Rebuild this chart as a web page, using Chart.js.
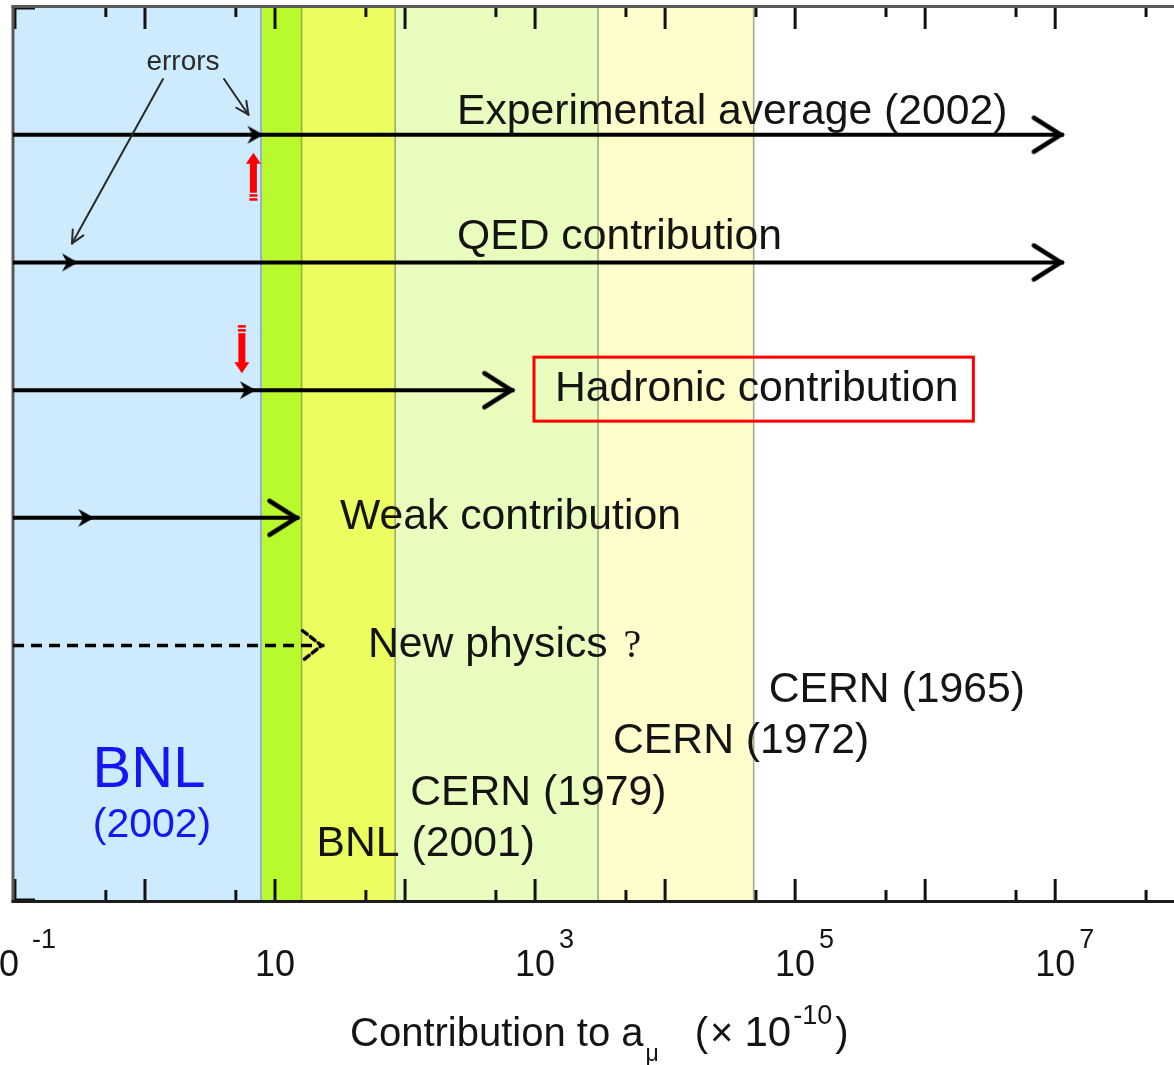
<!DOCTYPE html>
<html>
<head>
<meta charset="utf-8">
<title>Contributions to the muon anomalous magnetic moment</title>
<script src="https://cdn.jsdelivr.net/npm/chart.js@4.4.1/dist/chart.umd.min.js"></script>
<style>
html,body{margin:0;padding:0;background:#ffffff;overflow:hidden;}
#wrap{position:relative;width:1174px;height:1065px;}
canvas{display:block;}
</style>
</head>
<body>
<div id="wrap"><canvas id="chart" width="1174" height="1065"></canvas></div>
<script>
// ===== DATA (values in units of 1e-10) =====
const rowNames = ['Experimental average (2002)', 'QED contribution', 'Hadronic contribution', 'Weak contribution', 'New physics ?'];
const rowValues = [11659203, 11658470, 693, 15.4, 24];
const rowErrors = [8, 0.3, 7, 0.4, null];
const experimentNames = ['BNL (2002)', 'BNL (2001)', 'CERN (1979)', 'CERN (1972)', 'CERN (1965)'];
const experimentErrors = [7.8, 16, 84, 3050, 48000];
const tickExponents = [-1, 1, 3, 5, 7];
const majorTickValues = [0.1, 1, 10, 100, 1e3, 1e4, 1e5, 1e6, 1e7];
const minorTickValues = [0.5, 5, 50, 500, 5e3, 5e4, 5e5, 5e6, 5e7];
const xRange = [0.0966, 8.2e7];
const axisTitleParts = ['Contribution to a', 'μ', '(', '×', '10', '-10', ')'];
const errorsNote = 'errors';

// ===== STYLE / LAYOUT =====
const FONT = "'Liberation Sans', Arial, Helvetica, sans-serif";
const SERIF = "'Liberation Serif', 'Times New Roman', serif";
const TEXT = '#141414';
const LABEL_SIZE = 42.7;
const bandColors = ['#cdebfc', '#b9fa2e', '#ebfd5f', '#e9fdbf', '#fefdcb'];
const bandEdgeColors = ['#8e9ce8', '#98b040', '#a4ac6a', '#a4ab80', '#a9aa8c'];
const rowLabelX = [457, 457, 555, 340, 368];
const rowLabelDy = [-11, -13, 11, 11, 11];
const expLabelBaseline = [null, 856, 805, 753, 702];

function makeChevron(len, half, lw, dash) {
  const w = Math.ceil(2 * (len + lw + 4)), h = Math.ceil(2 * (half + lw + 4));
  const c = document.createElement('canvas'); c.width = w; c.height = h;
  const g = c.getContext('2d');
  const cx = w / 2, cy = h / 2;
  g.strokeStyle = '#000'; g.lineWidth = lw; g.lineCap = 'round'; g.lineJoin = 'miter';
  if (dash) g.setLineDash(dash);
  g.beginPath();
  g.moveTo(cx - len, cy - half); g.lineTo(cx - 3, cy); g.lineTo(cx - len, cy + half);
  g.stroke();
  return c;
}
function makeMarker(len, half, notch) {
  const w = 2 * (len + 3), h = 2 * (half + 3);
  const c = document.createElement('canvas'); c.width = w; c.height = h;
  const g = c.getContext('2d');
  const cx = w / 2, cy = h / 2;
  g.fillStyle = '#000';
  g.beginPath();
  g.moveTo(cx + 1, cy); g.lineTo(cx - len, cy - half); g.lineTo(cx - len + notch, cy); g.lineTo(cx - len, cy + half);
  g.closePath(); g.fill();
  return c;
}
const chevron = makeChevron(30, 17, 4.5);
const dashedChevron = makeChevron(22, 15, 3.5, [6, 4]);
const marker = makeMarker(15, 9, 5);

const datasets = rowNames.map((name, i) => {
  const y = i + 1;
  const pts = [{ x: xRange[0], y }];
  const styles = ['circle'], radii = [0];
  if (rowErrors[i] != null) { pts.push({ x: rowErrors[i], y }); styles.push(marker); radii.push(6); }
  pts.push({ x: rowValues[i], y }); styles.push(i === 4 ? dashedChevron : chevron); radii.push(6);
  return {
    label: name, data: pts, showLine: true,
    borderColor: '#000', borderWidth: i === 4 ? 3.5 : 4,
    borderDash: i === 4 ? [11, 7] : [],
    borderCapStyle: 'butt',
    pointStyle: styles, pointRadius: radii,
    pointBackgroundColor: '#000', pointBorderWidth: 0, clip: false
  };
});

function seg(ctx, x1, y1, x2, y2) { ctx.beginPath(); ctx.moveTo(x1, y1); ctx.lineTo(x2, y2); ctx.stroke(); }

const backgroundPlugin = {
  id: 'bands',
  beforeDatasetsDraw(chart) {
    const { ctx, chartArea: a, scales: { x: xs } } = chart;
    ctx.save();
    let prev = a.left;
    experimentErrors.forEach((e, i) => {
      const xe = xs.getPixelForValue(e);
      ctx.fillStyle = bandColors[i];
      ctx.fillRect(prev, a.top, xe - prev, a.bottom - a.top);
      prev = xe;
    });
    experimentErrors.forEach((e, i) => {
      const xe = xs.getPixelForValue(e);
      ctx.strokeStyle = bandEdgeColors[i]; ctx.lineWidth = 1.6;
      seg(ctx, xe, a.top, xe, a.bottom);
    });
    // tick marks (inside, top and bottom)
    ctx.strokeStyle = '#111'; ctx.lineWidth = 3; ctx.lineCap = 'butt';
    majorTickValues.forEach(v => {
      const x = xs.getPixelForValue(v);
      seg(ctx, x, a.bottom, x, a.bottom - 22);
      seg(ctx, x, a.top, x, a.top + 22);
    });
    minorTickValues.forEach(v => {
      const x = xs.getPixelForValue(v);
      seg(ctx, x, a.bottom, x, a.bottom - 11);
      seg(ctx, x, a.top, x, a.top + 10);
    });
    // y-axis end ticks
    seg(ctx, a.left, a.top + 1, a.left + 22, a.top + 1);
    seg(ctx, a.left, a.bottom - 1, a.left + 22, a.bottom - 1);
    // frame
    ctx.strokeStyle = '#585858'; ctx.lineWidth = 3;
    seg(ctx, a.left - 1.5, a.top - 0.5, a.right, a.top - 0.5);
    seg(ctx, a.left, a.top - 2, a.left, a.bottom + 1.5);
    ctx.strokeStyle = '#1c1c1c';
    seg(ctx, a.left - 1.5, a.bottom + 0.5, a.right, a.bottom + 0.5);
    ctx.restore();
  }
};

function redArrow(ctx, cx, tipY, dir) {
  // dir = -1: pointing up, +1: pointing down
  ctx.fillStyle = '#ff0000';
  const s = -dir;
  ctx.beginPath();
  ctx.moveTo(cx, tipY);
  ctx.lineTo(cx - 7.5, tipY + s * 11);
  ctx.lineTo(cx + 7.5, tipY + s * 11);
  ctx.closePath(); ctx.fill();
  const y1 = tipY + s * 10, y2 = tipY + s * 40;
  ctx.fillRect(cx - 3.5, Math.min(y1, y2), 7, Math.abs(y2 - y1));
  const b1 = tipY + s * 41.5, b2 = tipY + s * 45.5;
  ctx.fillRect(cx - 4, Math.min(b1, b1 + s * 2.5), 8, 2.5);
  ctx.fillRect(cx - 4, Math.min(b2, b2 + s * 2.5), 8, 2.5);
}

function arrowLine(ctx, x1, y1, x2, y2) {
  seg(ctx, x1, y1, x2, y2);
  const ang = Math.atan2(y2 - y1, x2 - x1);
  const L = 14, w = 0.45;
  seg(ctx, x2, y2, x2 - L * Math.cos(ang - w), y2 - L * Math.sin(ang - w));
  seg(ctx, x2, y2, x2 - L * Math.cos(ang + w), y2 - L * Math.sin(ang + w));
}

const foregroundPlugin = {
  id: 'texts',
  afterDatasetsDraw(chart) {
    const { ctx, chartArea: a, scales: { x: xs, y: ys } } = chart;
    ctx.save();
    ctx.textBaseline = 'alphabetic';
    // row labels
    ctx.fillStyle = TEXT;
    rowNames.forEach((name, i) => {
      const base = ys.getPixelForValue(i + 1) + rowLabelDy[i];
      const x = rowLabelX[i];
      ctx.font = `${LABEL_SIZE}px ${FONT}`; ctx.textAlign = 'left';
      if (name.endsWith('?')) {
        const main = name.slice(0, -1).trim();
        ctx.fillText(main, x, base);
        const w = ctx.measureText(main).width;
        ctx.font = `40px ${SERIF}`;
        ctx.fillText('?', x + w + 16, base);
      } else {
        ctx.fillText(name, x, base);
      }
      if (i === 2) {
        const w = ctx.measureText(name).width;
        ctx.strokeStyle = '#ff0000'; ctx.lineWidth = 3;
        ctx.strokeRect(x - 21, base - 44, w + 36, 64);
      }
    });
    // experiment labels
    experimentNames.forEach((name, i) => {
      if (i === 0) {
        const parts = name.split(' ');
        ctx.fillStyle = '#1515f5'; ctx.textAlign = 'center';
        ctx.font = `58px ${FONT}`; ctx.fillText(parts[0], 149, 787);
        ctx.font = `41px ${FONT}`; ctx.fillText(parts[1], 152, 837);
      } else {
        ctx.fillStyle = TEXT; ctx.textAlign = 'left'; ctx.font = `${LABEL_SIZE}px ${FONT}`;
        ctx.fillText(name, xs.getPixelForValue(experimentErrors[i]) + 15, expLabelBaseline[i]);
      }
    });
    // "errors" annotation
    const mExp = { x: xs.getPixelForValue(rowErrors[0]), y: ys.getPixelForValue(1) };
    const mQed = { x: xs.getPixelForValue(rowErrors[1]), y: ys.getPixelForValue(2) };
    ctx.fillStyle = '#2a2a2a'; ctx.font = `28px ${FONT}`; ctx.textAlign = 'center';
    ctx.fillText(errorsNote, 183, 70);
    ctx.strokeStyle = '#2a2a2a'; ctx.lineWidth = 2; ctx.lineCap = 'round';
    arrowLine(ctx, 163, 79, mQed.x - 5, mQed.y - 19);
    arrowLine(ctx, 224, 79, mExp.x - 14, mExp.y - 20);
    // red arrows
    const mHad = { x: xs.getPixelForValue(rowErrors[2]), y: ys.getPixelForValue(3) };
    redArrow(ctx, mExp.x - 9, mExp.y + 18, -1);
    redArrow(ctx, mHad.x - 13, mHad.y - 17, 1);
    // x tick labels
    ctx.fillStyle = TEXT;
    tickExponents.forEach(e => {
      const x = xs.getPixelForValue(Math.pow(10, e));
      const right = x + 20 + (e < 0 ? -16 : 0);
      ctx.font = `36px ${FONT}`; ctx.textAlign = 'right';
      ctx.fillText('10', right, 976);
      if (e !== 1) {
        ctx.font = `27px ${FONT}`; ctx.textAlign = 'left';
        ctx.fillText(e < 0 ? '-' + (-e) : String(e), right + (e < 0 ? 13 : 4), 948);
      }
    });
    // axis title
    let tx = 350; const tb = 1046;
    ctx.textAlign = 'left';
    const piece = (txt, size, base) => { ctx.font = `${size}px ${FONT}`; ctx.fillText(txt, tx, base); tx += ctx.measureText(txt).width; };
    const P = axisTitleParts;
    piece(P[0], 40, tb);
    tx += 2; piece(P[1], 23, tb + 15);
    tx += 36; piece(P[2], 40, tb);
    tx += 2; piece(P[3], 40, tb);
    tx += 11; piece(P[4], 42, tb);
    tx += 2; piece(P[5], 27, tb - 22);
    tx += 3; piece(P[6], 40, tb);
    ctx.restore();
  }
};

new Chart(document.getElementById('chart').getContext('2d'), {
  type: 'scatter',
  data: { datasets },
  options: {
    responsive: false, animation: false, events: [],
    layout: { autoPadding: false, padding: { left: 13, top: 7, right: 0, bottom: 164 } },
    plugins: { legend: { display: false }, tooltip: { enabled: false } },
    scales: {
      x: { type: 'logarithmic', min: xRange[0], max: xRange[1], bounds: 'data', display: false },
      y: { type: 'linear', min: 0, max: 7, reverse: true, display: false }
    }
  },
  plugins: [backgroundPlugin, foregroundPlugin]
});
</script>
</body>
</html>
